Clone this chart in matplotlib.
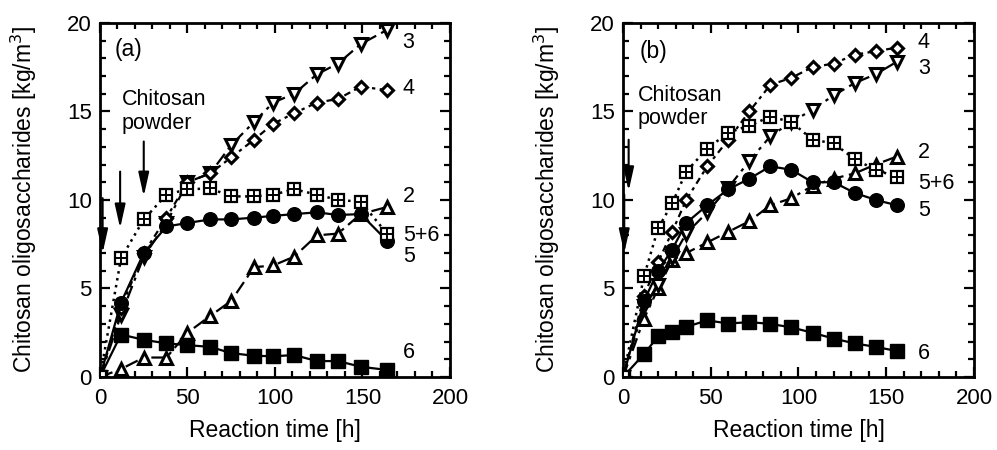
import numpy as np
import matplotlib
matplotlib.use('Agg')
import matplotlib.pyplot as plt
from matplotlib.ticker import MultipleLocator

plt.rcParams['font.family'] = ['Liberation Sans', 'DejaVu Sans']

# Panel (a): reaction times [h] and product concentrations [kg/m3]
times_a = [0, 12, 25, 38, 50, 63, 75, 88, 99, 111, 124, 136, 149, 164]
a_2  = [0, 0.45, 1.1, 1.1, 2.5, 3.45, 4.3, 6.2, 6.3, 6.8, 8.0, 8.1, 9.2, 9.6]
a_3  = [0, 3.5, 6.8, 8.7, 11.0, 11.5, 13.1, 14.4, 15.5, 16.0, 17.1, 17.7, 18.8, 19.6]
a_4  = [0, 3.9, 7.0, 9.0, 11.0, 11.5, 12.4, 13.4, 14.3, 14.9, 15.5, 15.7, 16.4, 16.2]
a_5  = [0, 4.2, 7.0, 8.5, 8.7, 8.9, 8.9, 9.0, 9.1, 9.2, 9.3, 9.15, 9.2, 7.7]
a_6  = [0, 2.4, 2.1, 1.9, 1.8, 1.7, 1.35, 1.2, 1.17, 1.24, 0.9, 0.9, 0.58, 0.4]
a_56 = [0, 6.7, 8.9, 10.3, 10.6, 10.65, 10.2, 10.2, 10.3, 10.6, 10.3, 10.0, 9.9, 8.1]

# Panel (b)
times_b = [0, 12, 20, 28, 36, 48, 60, 72, 84, 96, 108, 120, 132, 144, 156]
b_2  = [0, 3.3, 5.0, 6.6, 7.0, 7.6, 8.2, 8.8, 9.7, 10.1, 10.8, 11.2, 11.5, 12.0, 12.45]
b_3  = [0, 4.0, 5.2, 6.7, 8.1, 9.3, 10.7, 12.2, 13.6, 14.4, 15.1, 15.9, 16.6, 17.1, 17.8]
b_4  = [0, 4.6, 6.5, 8.2, 10.0, 11.9, 13.4, 15.0, 16.5, 16.9, 17.5, 17.7, 18.2, 18.4, 18.6]
b_5  = [0, 4.3, 6.0, 7.2, 8.7, 9.7, 10.6, 11.2, 11.9, 11.7, 11.0, 11.0, 10.4, 10.0, 9.7]
b_6  = [0, 1.3, 2.3, 2.55, 2.83, 3.2, 3.02, 3.1, 3.0, 2.8, 2.5, 2.17, 1.9, 1.7, 1.47]
b_56 = [0, 5.7, 8.4, 9.8, 11.6, 12.9, 13.8, 14.2, 14.7, 14.4, 13.4, 13.2, 12.3, 11.7, 11.3]

# curve labels at the right end: (text, y position)
labels_a = [('3', 18.9), ('4', 16.3), ('2', 10.2), ('5+6', 8.0), ('5', 6.8), ('6', 1.4)]
labels_b = [('4', 18.9), ('3', 17.45), ('2', 12.7), ('5+6', 10.95), ('5', 9.4), ('6', 1.35)]

# chitosan powder feeding: (time, arrow tail, arrow tip)
arrows_a = [(1.5, 10.1, 7.0), (11.5, 11.6, 8.4), (25, 13.3, 10.2)]
arrows_b = [(0.7, 10.3, 7.0), (3.2, 13.4, 10.5)]

FS = 16.5     # axis labels
FT = 16       # tick labels
FA = 15.5     # annotations
MS = 9


def draw_panel(ax, t, s2, s3, s4, s5, s6, s56, labels, arrows, tag, xlab_x):
    # dash-dot and dotted curves with open markers
    ax.plot(t, s2, color='k', lw=1.6, ls=(0, (6, 2.5, 1.5, 2.5)), marker='^',
            ms=MS - 0.5, mfc='white', mec='k', mew=2.2, zorder=3)
    ax.plot(t, s3, color='k', lw=1.6, ls=(0, (6, 2.5, 1.5, 2.5)), marker='v',
            ms=MS - 0.5, mfc='white', mec='k', mew=2.2, zorder=3)
    ax.plot(t, s4, color='k', lw=1.6, ls=(0, (3, 2, 1.5, 2)), marker='D',
            ms=MS - 2.5, mfc='white', mec='k', mew=2.2, zorder=3)
    # solid curves with filled markers
    ax.plot(t, s5, color='k', lw=1.6, ls='-', marker='o', ms=MS + 0.8,
            mfc='k', mec='k', zorder=4)
    ax.plot(t, s6, color='k', lw=1.6, ls='-', marker='s', ms=MS + 0.8,
            mfc='k', mec='k', zorder=4)
    # 5+6: dotted, crossed open squares
    ax.plot(t, s56, color='k', lw=1.8, ls=(0, (1, 1.8)), marker='s', ms=MS + 0.3,
            mfc='white', mec='k', mew=1.6, zorder=5)
    ax.plot(t, s56, ls='none', marker='+', ms=MS - 0.7, mec='k', mew=1.4, zorder=6)

    for txt, y in labels:
        ax.text(xlab_x, y, txt, fontsize=FA, va='center', ha='left', clip_on=False)

    for x, y0, y1 in arrows:
        ax.annotate('', xy=(x, y1), xytext=(x, y0),
                    arrowprops=dict(arrowstyle='-|>,head_length=0.9,head_width=0.2',
                                    mutation_scale=16, color='k', lw=1.5,
                                    shrinkA=0, shrinkB=0),
                    zorder=7)

    ax.set_xlim(0, 200)
    ax.set_ylim(0, 20)
    ax.xaxis.set_major_locator(MultipleLocator(50))
    ax.xaxis.set_minor_locator(MultipleLocator(10))
    ax.yaxis.set_major_locator(MultipleLocator(5))
    ax.yaxis.set_minor_locator(MultipleLocator(1))
    ax.tick_params(which='both', direction='in', top=True, right=True, width=1.6,
                   labelsize=FT)
    ax.tick_params(axis='x', pad=8)
    ax.tick_params(axis='y', pad=6)
    ax.tick_params(which='major', length=7)
    ax.tick_params(which='minor', length=4)
    for sp in ax.spines.values():
        sp.set_linewidth(2)
    ax.set_xlabel('Reaction time [h]', fontsize=FS)
    ax.set_ylabel('Chitosan oligosaccharides [kg/m$^3$]', fontsize=FS)
    ax.xaxis.set_label_coords(0.5, -0.118)
    ax.yaxis.set_label_coords(-0.175, 0.5)
    ax.text(tag[1], tag[2], tag[0], fontsize=FS, va='center', ha='left')


fig = plt.figure(figsize=(9.97, 4.5), dpi=100)
ax_a = fig.add_axes([0.1003, 0.1622, 0.351, 0.787])
ax_b = fig.add_axes([0.6249, 0.1622, 0.352, 0.787])

draw_panel(ax_a, times_a, a_2, a_3, a_4, a_5, a_6, a_56, labels_a, arrows_a,
           ('(a)', 8.6, 18.5), 173)
ax_a.text(12.4, 15.7, 'Chitosan', fontsize=FA, va='center', ha='left')
ax_a.text(12.4, 14.3, 'powder', fontsize=FA, va='center', ha='left')

draw_panel(ax_b, times_b, b_2, b_3, b_4, b_5, b_6, b_56, labels_b, arrows_b,
           ('(b)', 9.6, 18.4), 168)
ax_b.text(8.5, 15.9, 'Chitosan', fontsize=FA, va='center', ha='left')
ax_b.text(8.5, 14.6, 'powder', fontsize=FA, va='center', ha='left')

fig.savefig('out.png', dpi=100)
